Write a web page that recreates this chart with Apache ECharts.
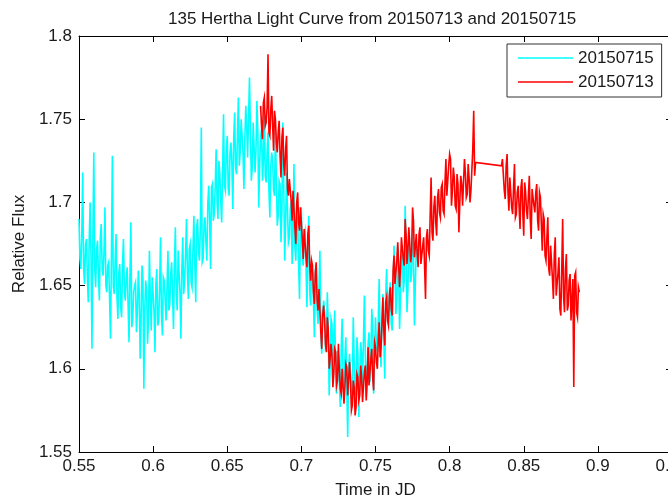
<!DOCTYPE html>
<html>
<head>
<meta charset="utf-8">
<script src="https://cdn.jsdelivr.net/npm/echarts@6/dist/echarts.min.js"></script>
<style>
html,body{margin:0;padding:0;background:#fff;}
#chart{width:668px;height:496px;}
</style>
</head>
<body>
<div id="chart"></div>
<script>
const titleText = '135 Hertha Light Curve from 20150713 and 20150715';
const seriesNames = ['20150715', '20150713'];
const xTicks = [0.55, 0.6, 0.65, 0.7, 0.75, 0.8, 0.85, 0.9, 0.95];
const yTicks = [1.55, 1.6, 1.65, 1.7, 1.75, 1.8];

const cyanTime = [
0.55,0.550625,0.55125,0.551875,0.5525,0.553125,0.55375,0.554375,0.555,0.555625,0.55625,0.556875,0.5575,0.558125,0.55875,0.559375,
0.56,0.560625,0.56125,0.561875,0.5625,0.563125,0.56375,0.564375,0.565,0.565625,0.56625,0.566875,0.5675,0.568125,0.56875,0.569375,
0.57,0.570625,0.57125,0.571875,0.5725,0.573125,0.57375,0.574375,0.575,0.575625,0.57625,0.576875,0.5775,0.578125,0.57875,0.579375,
0.58,0.580625,0.58125,0.581875,0.5825,0.583125,0.58375,0.584375,0.585,0.585625,0.58625,0.586875,0.5875,0.588125,0.58875,0.589375,
0.59,0.590625,0.59125,0.591875,0.5925,0.593125,0.59375,0.594375,0.595,0.595625,0.59625,0.596875,0.5975,0.598125,0.59875,0.599375,
0.60,0.600625,0.60125,0.601875,0.6025,0.603125,0.60375,0.604375,0.605,0.605625,0.60625,0.606875,0.6075,0.608125,0.60875,0.609375,
0.61,0.610625,0.61125,0.611875,0.6125,0.613125,0.61375,0.614375,0.615,0.615625,0.61625,0.616875,0.6175,0.618125,0.61875,0.619375,
0.62,0.620625,0.62125,0.621875,0.6225,0.623125,0.62375,0.624375,0.625,0.625625,0.62625,0.626875,0.6275,0.628125,0.62875,0.629375,
0.63,0.630625,0.63125,0.631875,0.6325,0.633125,0.63375,0.634375,0.635,0.635625,0.63625,0.636875,0.6375,0.638125,0.63875,0.639375,
0.64,0.640625,0.64125,0.641875,0.6425,0.643125,0.64375,0.644375,0.645,0.645625,0.64625,0.646875,0.6475,0.648125,0.64875,0.649375,
0.65,0.650625,0.65125,0.651875,0.6525,0.653125,0.65375,0.654375,0.655,0.655625,0.65625,0.656875,0.6575,0.658125,0.65875,0.659375,
0.66,0.660625,0.66125,0.661875,0.6625,0.663125,0.66375,0.664375,0.665,0.665625,0.66625,0.666875,0.6675,0.668125,0.66875,0.669375,
0.67,0.670625,0.67125,0.671875,0.6725,0.673125,0.67375,0.674375,0.675,0.675625,0.67625,0.676875,0.6775,0.678125,0.67875,0.679375,
0.68,0.680625,0.68125,0.681875,0.6825,0.683125,0.68375,0.684375,0.685,0.685625,0.68625,0.686875,0.6875,0.688125,0.68875,0.689375,
0.69,0.690625,0.69125,0.691875,0.6925,0.693125,0.69375,0.694375,0.695,0.695625,0.69625,0.696875,0.6975,0.698125,0.69875,0.699375,
0.70,0.700625,0.70125,0.701875,0.7025,0.703125,0.70375,0.704375,0.705,0.705625,0.70625,0.706875,0.7075,0.708125,0.70875,0.709375,
0.71,0.710625,0.71125,0.711875,0.7125,0.713125,0.71375,0.714375,0.715,0.715625,0.71625,0.716875,0.7175,0.718125,0.71875,0.719375,
0.72,0.720625,0.72125,0.721875,0.7225,0.723125,0.72375,0.724375,0.725,0.725625,0.72625,0.726875,0.7275,0.728125,0.72875,0.729375,
0.73,0.730625,0.73125,0.731875,0.7325,0.733125,0.73375,0.734375,0.735,0.735625,0.73625,0.736875,0.7375,0.738125,0.73875,0.739375,
0.74,0.740625,0.74125,0.741875,0.7425,0.743125,0.74375,0.744375,0.745,0.745625,0.74625,0.746875,0.7475,0.748125,0.74875,0.749375,
0.75,0.750625,0.75125,0.751875,0.7525,0.753125,0.75375,0.754375,0.755,0.755625,0.75625,0.756875,0.7575,0.758125,0.75875,0.759375,
0.76,0.760625,0.76125,0.761875,0.7625,0.763125,0.76375,0.764375,0.765,0.765625,0.76625,0.766875,0.7675,0.768125,0.76875,0.769375,
0.77,0.770625,0.77125,0.771875,0.7725,0.773125,0.77375,0.774375,0.775,0.775625,0.77625,0.776875,0.7775
];
const cyanFlux = [
1.690,1.666,1.660,1.681,1.718,1.660,1.651,1.674,1.678,1.656,1.640,1.677,1.700,1.666,1.612,1.680,
1.730,1.660,1.649,1.672,1.677,1.656,1.641,1.679,1.687,1.660,1.656,1.671,1.697,1.650,1.646,1.662,
1.664,1.642,1.618,1.667,1.728,1.650,1.645,1.665,1.681,1.643,1.630,1.658,1.663,1.637,1.631,1.663,
1.678,1.646,1.641,1.655,1.661,1.638,1.616,1.656,1.688,1.625,1.631,1.646,1.650,1.652,1.622,1.634,
1.659,1.646,1.606,1.628,1.662,1.654,1.588,1.636,1.653,1.647,1.615,1.629,1.671,1.642,1.623,1.655,
1.645,1.634,1.610,1.651,1.660,1.626,1.629,1.648,1.679,1.633,1.620,1.655,1.653,1.641,1.629,1.650,
1.671,1.635,1.639,1.657,1.664,1.644,1.624,1.662,1.685,1.644,1.635,1.671,1.658,1.645,1.618,1.660,
1.679,1.645,1.653,1.668,1.690,1.659,1.642,1.672,1.675,1.652,1.649,1.672,1.692,1.662,1.640,1.685,
1.690,1.670,1.665,1.685,1.745,1.664,1.666,1.687,1.691,1.676,1.665,1.699,1.710,1.689,1.660,1.709,
1.711,1.689,1.693,1.709,1.732,1.700,1.690,1.725,1.717,1.701,1.688,1.719,1.753,1.710,1.707,1.732,
1.740,1.709,1.704,1.730,1.736,1.723,1.696,1.739,1.754,1.721,1.717,1.740,1.763,1.722,1.730,1.750,
1.751,1.730,1.708,1.739,1.758,1.745,1.727,1.726,1.775,1.743,1.713,1.721,1.748,1.748,1.718,1.731,
1.761,1.742,1.697,1.723,1.739,1.744,1.713,1.725,1.757,1.716,1.712,1.730,1.742,1.707,1.691,1.722,
1.730,1.725,1.707,1.704,1.744,1.714,1.686,1.692,1.713,1.711,1.676,1.695,1.748,1.709,1.665,1.687,
1.718,1.696,1.676,1.679,1.696,1.701,1.663,1.682,1.723,1.673,1.665,1.688,1.690,1.663,1.642,1.684,
1.697,1.666,1.662,1.680,1.683,1.662,1.637,1.671,1.692,1.647,1.638,1.660,1.658,1.642,1.619,1.659,
1.663,1.636,1.627,1.648,1.671,1.621,1.609,1.633,1.641,1.635,1.613,1.615,1.646,1.626,1.584,1.601,
1.630,1.627,1.604,1.604,1.635,1.597,1.585,1.611,1.612,1.591,1.577,1.613,1.630,1.594,1.582,1.607,
1.619,1.589,1.559,1.600,1.609,1.609,1.583,1.587,1.631,1.604,1.590,1.584,1.619,1.609,1.571,1.594,
1.616,1.609,1.590,1.591,1.644,1.609,1.583,1.597,1.615,1.622,1.592,1.608,1.636,1.625,1.585,1.609,
1.631,1.614,1.610,1.630,1.654,1.611,1.601,1.632,1.645,1.618,1.594,1.644,1.660,1.634,1.631,1.646,
1.652,1.627,1.623,1.649,1.674,1.659,1.633,1.642,1.674,1.657,1.624,1.644,1.666,1.670,1.646,1.653,
1.698,1.669,1.634,1.648,1.676,1.667,1.652,1.657,1.684,1.670,1.626,1.651,1.672
];

const redTime = [
0.6725,0.673125,0.67375,0.674375,
0.675,0.675625,0.67625,0.676875,0.6775,0.678125,0.67875,0.679375,0.68,0.680625,0.68125,0.681875,0.6825,0.683125,0.68375,0.684375,
0.685,0.685625,0.68625,0.686875,0.6875,0.688125,0.68875,0.689375,0.69,0.690625,0.69125,0.691875,0.6925,0.693125,0.69375,0.694375,
0.695,0.695625,0.69625,0.696875,0.6975,0.698125,0.69875,0.699375,0.70,0.700625,0.70125,0.701875,0.7025,0.703125,0.70375,0.704375,
0.705,0.705625,0.70625,0.706875,0.7075,0.708125,0.70875,0.709375,0.71,0.710625,0.71125,0.711875,0.7125,0.713125,0.71375,0.714375,
0.715,0.715625,0.71625,0.716875,0.7175,0.718125,0.71875,0.719375,0.72,0.720625,0.72125,0.721875,0.7225,0.723125,0.72375,0.724375,
0.725,0.725625,0.72625,0.726875,0.7275,0.728125,0.72875,0.729375,0.73,0.730625,0.73125,0.731875,0.7325,0.733125,0.73375,0.734375,
0.735,0.735625,0.73625,0.736875,0.7375,0.738125,0.73875,0.739375,0.74,0.740625,0.74125,0.741875,0.7425,0.743125,0.74375,0.744375,
0.745,0.745625,0.74625,0.746875,0.7475,0.748125,0.74875,0.749375,0.75,0.750625,0.75125,0.751875,0.7525,0.753125,0.75375,0.754375,
0.755,0.755625,0.75625,0.756875,0.7575,0.758125,0.75875,0.759375,0.76,0.760625,0.76125,0.761875,0.7625,0.763125,0.76375,0.764375,
0.765,0.765625,0.76625,0.766875,0.7675,0.768125,0.76875,0.769375,0.77,0.770625,0.77125,0.771875,0.7725,0.773125,0.77375,0.774375,
0.775,0.775625,0.77625,0.776875,0.7775,0.778125,0.77875,0.779375,0.78,0.780625,0.78125,0.781875,0.7825,0.783125,0.78375,0.784375,
0.785,0.785625,0.78625,0.786875,0.7875,0.788125,0.78875,0.789375,0.79,0.790625,0.79125,0.791875,0.7925,0.793125,0.79375,0.794375,
0.795,0.795625,0.79625,0.796875,0.7975,0.798125,0.79875,0.799375,0.80,0.800625,0.80125,0.801875,0.8025,0.803125,0.80375,0.804375,
0.805,0.805625,0.80625,0.806875,0.8075,0.808125,0.80875,0.809375,0.81,0.810625,0.81125,0.811875,0.8125,0.813125,0.81375,0.814375,
0.815,0.815625,0.81625,0.816875,0.8175,
0.835,0.835625,0.83625,0.836875,0.8375,0.838125,0.83875,0.839375,0.84,0.840625,0.84125,0.841875,0.8425,0.843125,0.84375,0.844375,
0.845,0.845625,0.84625,0.846875,0.8475,0.848125,0.84875,0.849375,0.85,0.850625,0.85125,0.851875,0.8525,0.853125,0.85375,0.854375,
0.855,0.855625,0.85625,0.856875,0.8575,0.858125,0.85875,0.859375,0.86,0.860625,0.86125,0.861875,0.8625,0.863125,0.86375,0.864375,
0.865,0.865625,0.86625,0.866875,0.8675,0.868125,0.86875,0.869375,0.87,0.870625,0.87125,0.871875,0.8725,0.873125,0.87375,0.874375,
0.875,0.875625,0.87625,0.876875,0.8775,0.878125,0.87875,0.879375,0.88,0.880625,0.88125,0.881875,0.8825,0.883125,0.88375,0.884375,
0.885,0.885625,0.88625,0.886875,0.8875
];
const redFlux = [
1.758,1.746,1.738,1.760,
1.763,1.746,1.748,1.757,1.789,1.742,1.740,1.756,1.764,1.746,1.731,1.755,1.750,1.736,1.730,1.742,
1.749,1.728,1.715,1.739,1.745,1.723,1.716,1.732,1.740,1.708,1.704,1.714,1.715,1.701,1.689,1.707,
1.708,1.685,1.675,1.700,1.706,1.688,1.683,1.697,1.698,1.678,1.666,1.684,1.685,1.667,1.661,1.681,
1.686,1.663,1.653,1.665,1.662,1.646,1.639,1.657,1.664,1.641,1.635,1.648,1.647,1.622,1.612,1.632,
1.638,1.630,1.615,1.610,1.631,1.624,1.600,1.606,1.615,1.608,1.589,1.597,1.612,1.610,1.590,1.593,
1.615,1.600,1.588,1.585,1.600,1.601,1.579,1.589,1.603,1.601,1.584,1.583,1.604,1.593,1.575,1.578,
1.593,1.589,1.572,1.577,1.597,1.595,1.581,1.584,1.602,1.595,1.580,1.580,1.598,1.602,1.581,1.592,
1.613,1.590,1.590,1.606,1.612,1.594,1.587,1.616,1.613,1.604,1.600,1.617,1.628,1.607,1.613,1.627,
1.643,1.623,1.614,1.640,1.643,1.629,1.626,1.644,1.649,1.636,1.632,1.659,1.668,1.651,1.651,1.665,
1.676,1.675,1.649,1.662,1.679,1.672,1.666,1.662,1.690,1.681,1.663,1.672,1.685,1.684,1.664,1.670,
1.697,1.689,1.667,1.673,1.681,1.669,1.661,1.681,1.685,1.663,1.662,1.674,1.679,1.661,1.642,1.679,
1.684,1.671,1.668,1.692,1.715,1.682,1.677,1.697,1.704,1.688,1.680,1.703,1.708,1.694,1.691,1.709,
1.711,1.695,1.693,1.712,1.726,1.704,1.704,1.722,1.729,1.726,1.698,1.707,1.721,1.715,1.698,1.696,
1.717,1.711,1.682,1.700,1.716,1.711,1.698,1.699,1.726,1.718,1.703,1.705,1.723,1.715,1.700,1.707,
1.708,1.732,1.755,1.716,1.724,
1.722,1.726,1.726,1.707,1.702,1.722,1.729,1.706,1.695,1.715,1.715,1.697,1.693,1.709,1.723,1.691,
1.693,1.706,1.710,1.697,1.684,1.709,1.714,1.693,1.680,1.712,1.706,1.695,1.690,1.704,1.716,1.690,
1.678,1.708,1.708,1.698,1.694,1.706,1.711,1.689,1.683,1.706,1.703,1.687,1.671,1.693,1.690,1.668,
1.665,1.679,1.691,1.660,1.656,1.674,1.675,1.654,1.642,1.669,1.679,1.644,1.645,1.658,1.667,1.636,
1.632,1.659,1.690,1.643,1.634,1.660,1.669,1.635,1.638,1.653,1.657,1.629,1.628,1.654,1.589,1.656,
1.658,1.634,1.631,1.649,1.646
];

const zip = (a, b) => a.map((v, i) => [v, b[i]]);
const fmt = v => String(Math.round(v * 100) / 100);
const FONT = '"Liberation Sans", Arial, sans-serif';
const TXT = '#1a1a1a';

const baseAxis = {
  type: 'value',
  splitLine: { show: false },
  axisLine: { show: true, onZero: false, lineStyle: { color: '#000', width: 1 } },
  axisTick: { show: true, inside: true, length: 6, lineStyle: { color: '#000' } }
};

const chart = echarts.init(document.getElementById('chart'), null, { renderer: 'canvas' });
chart.setOption({
  animation: false,
  backgroundColor: '#fff',
  title: {
    text: titleText,
    left: 163, top: 6,
    textStyle: { fontFamily: FONT, fontSize: 17, fontWeight: 'normal', color: TXT }
  },
  legend: {
    data: seriesNames,
    orient: 'vertical',
    left: 507, top: 44,
    icon: 'rect',
    itemWidth: 55, itemHeight: 1.5, itemGap: 4,
    padding: [4, 8, 5, 11],
    borderColor: '#333', borderWidth: 1, backgroundColor: '#fff',
    textStyle: { fontFamily: FONT, fontSize: 17, color: TXT, lineHeight: 20 }
  },
  grid: { left: 79, right: -4, top: 36, bottom: 44, containLabel: false, outerBoundsMode: 'none' },
  xAxis: [
    Object.assign({}, baseAxis, {
      position: 'bottom',
      min: xTicks[0], max: xTicks[xTicks.length - 1], interval: 0.05,
      axisLabel: { fontFamily: FONT, fontSize: 17, color: TXT, margin: 6, formatter: fmt, showMinLabel: true, showMaxLabel: true },
      name: 'Time in JD', nameLocation: 'middle', nameGap: 30,
      nameTextStyle: { fontFamily: FONT, fontSize: 17, color: TXT }
    }),
    Object.assign({}, baseAxis, {
      position: 'top',
      min: xTicks[0], max: xTicks[xTicks.length - 1], interval: 0.05,
      axisLabel: { show: false }
    })
  ],
  yAxis: [
    Object.assign({}, baseAxis, {
      position: 'left',
      min: yTicks[0], max: yTicks[yTicks.length - 1], interval: 0.05,
      axisLabel: { fontFamily: FONT, fontSize: 17, color: TXT, margin: 7, formatter: fmt, showMinLabel: true, showMaxLabel: true },
      name: 'Relative Flux', nameLocation: 'middle', nameGap: 50, nameRotate: 90,
      nameTextStyle: { fontFamily: FONT, fontSize: 17, color: TXT }
    }),
    Object.assign({}, baseAxis, {
      position: 'right',
      min: yTicks[0], max: yTicks[yTicks.length - 1], interval: 0.05,
      axisLabel: { show: false }
    })
  ],
  series: [
    {
      name: seriesNames[0], type: 'line', xAxisIndex: 0, yAxisIndex: 0,
      data: zip(cyanTime, cyanFlux),
      showSymbol: false, symbol: 'none', sampling: null,
      lineStyle: { color: '#00ffff', width: 1.6, join: 'miter' },
      itemStyle: { color: '#00ffff' }
    },
    {
      name: seriesNames[1], type: 'line', xAxisIndex: 0, yAxisIndex: 0,
      data: zip(redTime, redFlux),
      showSymbol: false, symbol: 'none', sampling: null,
      lineStyle: { color: '#ff0000', width: 1.6, join: 'miter' },
      itemStyle: { color: '#ff0000' }
    }
  ]
});
</script>
</body>
</html>
